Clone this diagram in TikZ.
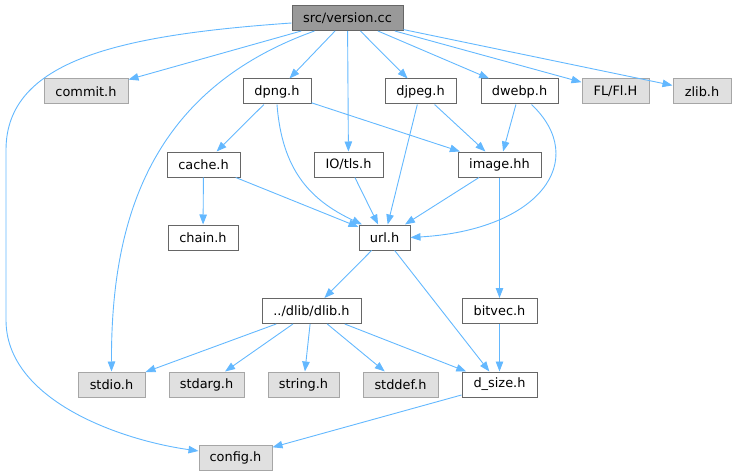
\documentclass[tikz,border=0pt]{standalone}
\usepackage{fontspec}
\setmainfont{DejaVu Sans}
\usepackage{xcolor}
\usetikzlibrary{arrows.meta,calc}
\definecolor{edgeblue}{HTML}{63B8FF}
\definecolor{boxgray}{HTML}{E0E0E0}
\definecolor{rootgray}{HTML}{999999}
\tikzset{
  file/.style={draw=black!60,fill=white,line width=1pt,minimum height=25pt,inner sep=0pt,
    font=\fontsize{12.9}{14}\selectfont},
  sysfile/.style={file,draw=black!35,fill=boxgray},
  rootfile/.style={file,fill=rootgray},
  dep/.style={draw=edgeblue,line width=0.9pt,-{Triangle[length=10pt,width=7.5pt]}}
}
\begin{document}
\begin{tikzpicture}[x=1pt,y=-1pt]
\useasboundingbox (0,0) rectangle (736,476);

% files
\node[rootfile,minimum width=111pt] (root) at (347.5,18) {src/version.cc};
\node[sysfile,minimum width=84pt] (commit) at (86,91.5) {commit.h};
\node[file,minimum width=68pt] (dpng) at (277,91.5) {dpng.h};
\node[file,minimum width=71pt] (djpeg) at (420.5,91.5) {djpeg.h};
\node[file,minimum width=77pt] (dwebp) at (519.5,91.5) {dwebp.h};
\node[sysfile,minimum width=67pt] (fl) at (615.5,91.5) {FL/Fl.H};
\node[sysfile,minimum width=58pt] (zlib) at (702,91.5) {zlib.h};
\node[file,minimum width=73pt] (cache) at (203.5,164.5) {cache.h};
\node[file,minimum width=69pt] (tls) at (348.5,164.5) {IO/tls.h};
\node[file,minimum width=83pt] (image) at (499.5,164.5) {image.hh};
\node[file,minimum width=70pt] (chain) at (203,237.5) {chain.h};
\node[file,minimum width=51pt] (url) at (384.5,237.5) {url.h};
\node[file,minimum width=99pt] (dlib) at (311.5,311) {../dlib/dlib.h};
\node[file,minimum width=75pt] (bitvec) at (499.5,311) {bitvec.h};
\node[sysfile,minimum width=67pt] (stdio) at (111.5,384.5) {stdio.h};
\node[sysfile,minimum width=75pt] (stdarg) at (206.5,384.5) {stdarg.h};
\node[sysfile,minimum width=71pt] (string) at (303.5,384.5) {string.h};
\node[sysfile,minimum width=75pt] (stddef) at (400.5,384.5) {stddef.h};
\node[file,minimum width=75pt] (dsize) at (499.5,384.5) {d\_size.h};
\node[sysfile,minimum width=73pt] (config) at (235.5,457.5) {config.h};

% includes
\foreach \a/\b in {root/commit,root/dpng,root/tls,root/djpeg,root/dwebp,root/fl,root/zlib,
  dpng/cache,dpng/image,djpeg/url,djpeg/image,dwebp/image,cache/chain,cache/url,
  tls/url,image/url,image/bitvec,url/dlib,url/dsize,dlib/stdio,dlib/stdarg,
  dlib/string,dlib/stddef,dlib/dsize,bitvec/dsize,dsize/config}
  \draw[dep] (\a) -- (\b);

\draw[dep] ($(root.west)+(0,5)$) .. controls (120,35) and (6,60) .. (6,150)
  -- (6,320) .. controls (6,400) and (120,440) .. (config.170);
\draw[dep] ($(root.south)+(-33,0)$) .. controls (150,90) and (111,220) .. (stdio.north);
\draw[dep] (dpng.south) .. controls (282,170) and (310,200) .. (url.150);
\draw[dep] ($(dwebp.south)+(12,0)$) .. controls (590,160) and (540,230) .. (url.east);
\end{tikzpicture}
\end{document}
